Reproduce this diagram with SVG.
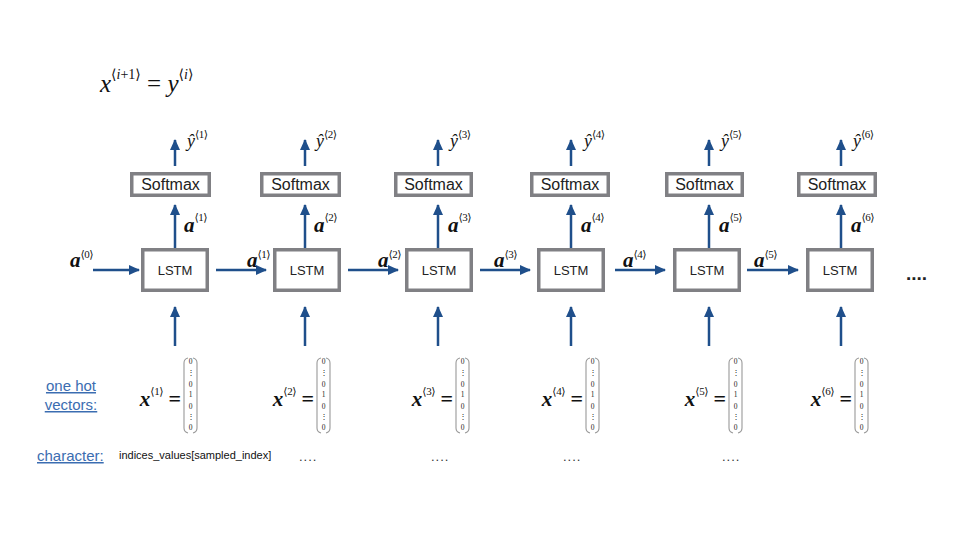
<svg xmlns="http://www.w3.org/2000/svg" width="960" height="540" viewBox="0 0 960 540">
<style>
.box{fill:#fff;stroke:#808084;stroke-width:3.5}
.lbl{font-family:"Liberation Sans",Arial,sans-serif;fill:#222;text-anchor:middle}
.m{font-family:"Liberation Serif","DejaVu Serif",serif;fill:#111}
.ab{font-weight:bold;font-style:italic;font-size:21px}
.sup{font-size:11px;font-weight:normal;font-style:normal;letter-spacing:-0.5px}
.yh{font-style:italic;font-size:18px}
.ent{font-family:"Liberation Serif","DejaVu Serif",serif;font-size:7.5px;fill:#222;text-anchor:middle}
.par{fill:none;stroke:#999;stroke-width:1.1}
.conn line{stroke:#1f4f8b;stroke-width:2.5;marker-end:url(#ah)}
.link{font-family:"Liberation Sans",Arial,sans-serif;font-size:15px;fill:#3b6db1;text-decoration:underline}
.dots{font-family:"Liberation Sans",Arial,sans-serif;font-size:13px;fill:#333;letter-spacing:1px}
.eq{font-weight:bold;font-style:normal;font-size:22px}
</style>
<defs>
<marker id="ah" markerUnits="userSpaceOnUse" markerWidth="12" markerHeight="12" viewBox="0 0 12 12" refX="10" refY="6" orient="auto">
<path d="M0,1 L11,6 L0,11 Z" fill="#1f4f8b"/>
</marker>
<g id="mat">
<path class="par" d="M4,358 Q0,359 0,363 L0,428 Q0,432 4,433"/>
<path class="par" d="M9,358 Q13,359 13,363 L13,428 Q13,432 9,433"/>
<text class="ent" x="6.5" y="364">0</text>
<text class="ent" x="6.5" y="375">⋮</text>
<text class="ent" x="6.5" y="386.5">0</text>
<text class="ent" x="6.5" y="397">1</text>
<text class="ent" x="6.5" y="408.5">0</text>
<text class="ent" x="6.5" y="419">⋮</text>
<text class="ent" x="6.5" y="430">0</text>
</g>
</defs>
<rect width="960" height="540" fill="#fff"/>

<g id="formula">
<text class="m" x="100" y="92" font-size="25" font-style="italic">x<tspan font-size="14" font-style="normal" dy="-13">⟨<tspan font-style="italic">i</tspan>+1⟩</tspan><tspan dy="13" font-style="normal"> = </tspan>y<tspan font-size="14" font-style="normal" dy="-13">⟨<tspan font-style="italic">i</tspan>⟩</tspan></text>
</g>

<g id="connectors" class="conn">
<line x1="93" y1="270" x2="139" y2="270"/>
<line x1="216" y1="270" x2="266" y2="270"/>
<line x1="348" y1="270" x2="398" y2="270"/>
<line x1="480" y1="270" x2="530" y2="270"/>
<line x1="615" y1="270" x2="665" y2="270"/>
<line x1="747" y1="270" x2="798" y2="270"/>
<line x1="175" y1="248" x2="175" y2="205"/>
<line x1="305" y1="248" x2="305" y2="205"/>
<line x1="438" y1="248" x2="438" y2="205"/>
<line x1="571" y1="248" x2="571" y2="205"/>
<line x1="709" y1="248" x2="709" y2="205"/>
<line x1="841" y1="248" x2="841" y2="205"/>
<line x1="175" y1="166" x2="175" y2="140"/>
<line x1="305" y1="166" x2="305" y2="140"/>
<line x1="438" y1="166" x2="438" y2="140"/>
<line x1="571" y1="166" x2="571" y2="140"/>
<line x1="709" y1="166" x2="709" y2="140"/>
<line x1="841" y1="166" x2="841" y2="140"/>
<line x1="175" y1="346" x2="175" y2="307"/>
<line x1="305" y1="346" x2="305" y2="307"/>
<line x1="438" y1="346" x2="438" y2="307"/>
<line x1="571" y1="346" x2="571" y2="307"/>
<line x1="709" y1="346" x2="709" y2="307"/>
<line x1="841" y1="346" x2="841" y2="307"/>
</g>

<g id="a0"><text class="m ab" x="70" y="267">a<tspan class="sup" dy="-9">⟨0⟩</tspan></text></g>

<g id="cell1">
<rect class="box" x="142.75" y="249.75" width="64.5" height="40.5"/>
<text class="lbl" x="175" y="275" font-size="13">LSTM</text>
<rect class="box" x="131.75" y="173.75" width="77.5" height="21.5"/>
<text class="lbl" x="170.5" y="190" font-size="16">Softmax</text>
<text class="m ab" x="184" y="232">a<tspan class="sup" dy="-11">⟨1⟩</tspan></text>
<text class="m yh" x="187" y="147">ŷ<tspan class="sup" dy="-9">⟨1⟩</tspan></text>
<text class="m ab" x="247" y="267">a<tspan class="sup" dy="-9">⟨1⟩</tspan></text>
<text class="m ab" x="181" y="406" text-anchor="end">x<tspan class="sup" dy="-11">⟨1⟩</tspan><tspan class="eq" dy="11"> =</tspan></text>
<use href="#mat" x="184" y="0"/>
</g>

<g id="cell2">
<rect class="box" x="274.75" y="249.75" width="64.5" height="40.5"/>
<text class="lbl" x="307" y="275" font-size="13">LSTM</text>
<rect class="box" x="261.75" y="173.75" width="77.5" height="21.5"/>
<text class="lbl" x="300.5" y="190" font-size="16">Softmax</text>
<text class="m ab" x="314" y="232">a<tspan class="sup" dy="-11">⟨2⟩</tspan></text>
<text class="m yh" x="316" y="147">ŷ<tspan class="sup" dy="-9">⟨2⟩</tspan></text>
<text class="m ab" x="378" y="267">a<tspan class="sup" dy="-9">⟨2⟩</tspan></text>
<text class="m ab" x="314" y="406" text-anchor="end">x<tspan class="sup" dy="-11">⟨2⟩</tspan><tspan class="eq" dy="11"> =</tspan></text>
<use href="#mat" x="317" y="0"/>
</g>

<g id="cell3">
<rect class="box" x="406.75" y="249.75" width="64.5" height="40.5"/>
<text class="lbl" x="439" y="275" font-size="13">LSTM</text>
<rect class="box" x="395.75" y="173.75" width="75.5" height="21.5"/>
<text class="lbl" x="433.5" y="190" font-size="16">Softmax</text>
<text class="m ab" x="448" y="232">a<tspan class="sup" dy="-11">⟨3⟩</tspan></text>
<text class="m yh" x="450" y="147">ŷ<tspan class="sup" dy="-9">⟨3⟩</tspan></text>
<text class="m ab" x="494" y="267">a<tspan class="sup" dy="-9">⟨3⟩</tspan></text>
<text class="m ab" x="453" y="406" text-anchor="end">x<tspan class="sup" dy="-11">⟨3⟩</tspan><tspan class="eq" dy="11"> =</tspan></text>
<use href="#mat" x="456" y="0"/>
</g>

<g id="cell4">
<rect class="box" x="538.75" y="249.75" width="64.5" height="40.5"/>
<text class="lbl" x="571" y="275" font-size="13">LSTM</text>
<rect class="box" x="531.75" y="173.75" width="76.5" height="21.5"/>
<text class="lbl" x="570" y="190" font-size="16">Softmax</text>
<text class="m ab" x="581" y="232">a<tspan class="sup" dy="-11">⟨4⟩</tspan></text>
<text class="m yh" x="584" y="147">ŷ<tspan class="sup" dy="-9">⟨4⟩</tspan></text>
<text class="m ab" x="623" y="267">a<tspan class="sup" dy="-9">⟨4⟩</tspan></text>
<text class="m ab" x="583" y="406" text-anchor="end">x<tspan class="sup" dy="-11">⟨4⟩</tspan><tspan class="eq" dy="11"> =</tspan></text>
<use href="#mat" x="586" y="0"/>
</g>

<g id="cell5">
<rect class="box" x="674.75" y="249.75" width="64.5" height="40.5"/>
<text class="lbl" x="707" y="275" font-size="13">LSTM</text>
<rect class="box" x="666.75" y="173.75" width="75.5" height="21.5"/>
<text class="lbl" x="704.5" y="190" font-size="16">Softmax</text>
<text class="m ab" x="719" y="232">a<tspan class="sup" dy="-11">⟨5⟩</tspan></text>
<text class="m yh" x="721" y="147">ŷ<tspan class="sup" dy="-9">⟨5⟩</tspan></text>
<text class="m ab" x="754" y="267">a<tspan class="sup" dy="-9">⟨5⟩</tspan></text>
<text class="m ab" x="726" y="406" text-anchor="end">x<tspan class="sup" dy="-11">⟨5⟩</tspan><tspan class="eq" dy="11"> =</tspan></text>
<use href="#mat" x="729" y="0"/>
</g>

<g id="cell6">
<rect class="box" x="807.75" y="249.75" width="64.5" height="40.5"/>
<text class="lbl" x="840" y="275" font-size="13">LSTM</text>
<rect class="box" x="798.75" y="173.75" width="76.5" height="21.5"/>
<text class="lbl" x="837" y="190" font-size="16">Softmax</text>
<text class="m ab" x="851" y="232">a<tspan class="sup" dy="-11">⟨6⟩</tspan></text>
<text class="m yh" x="853" y="147">ŷ<tspan class="sup" dy="-9">⟨6⟩</tspan></text>
<text class="m ab" x="852" y="406" text-anchor="end">x<tspan class="sup" dy="-11">⟨6⟩</tspan><tspan class="eq" dy="11"> =</tspan></text>
<use href="#mat" x="855" y="0"/>
</g>

<g id="ellipsis"><text x="906" y="280" font-family="Liberation Sans,Arial,sans-serif" font-size="19" font-weight="bold" fill="#222">....</text></g>

<g id="rowlabels">
<text class="link" x="71" y="391" text-anchor="middle">one hot</text>
<text class="link" x="71" y="410" text-anchor="middle">vectors:</text>
<text class="link" x="37" y="461">character:</text>
<text x="119" y="459" font-family="Liberation Sans,Arial,sans-serif" font-size="11" fill="#111">indices_values[sampled_index]</text>
<text class="dots" x="299" y="461">....</text>
<text class="dots" x="431" y="461">....</text>
<text class="dots" x="563" y="461">....</text>
<text class="dots" x="722" y="461">....</text>
</g>
</svg>
